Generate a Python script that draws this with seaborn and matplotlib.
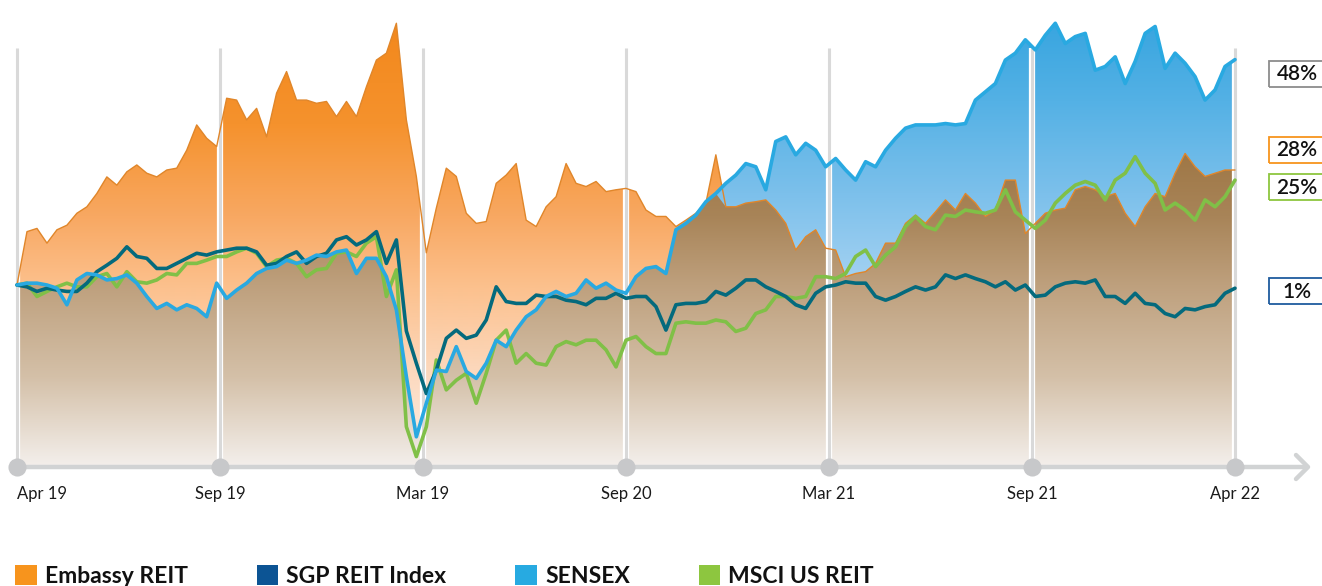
import numpy as np
import pandas as pd
import matplotlib
matplotlib.use("Agg")
import matplotlib.pyplot as plt
import seaborn as sns
from matplotlib.patches import PathPatch, Rectangle, Patch

# ---------------- data (percent change since Apr 19) ----------------
tick_labels = ["Apr 19", "Sep 19", "Mar 19", "Sep 20", "Mar 21", "Sep 21", "Apr 22"]
series_names = ["Embassy REIT", "SGP REIT Index", "SENSEX", "MSCI US REIT"]
end_labels = ["48%", "28%", "25%", "1%"]

embassy = [0, 11.6, 12.3, 9.1, 12.0, 13.0, 15.6, 17.0, 19.9, 23.5, 21.7, 24.6, 26.1, 24.3, 23.5, 25.0, 25.4, 29.3, 34.8, 31.9, 30.1,
           40.6, 40.2, 35.9, 38.4, 32.2, 41.7, 46.4, 40.2, 40.2, 39.5, 39.9, 36.6, 39.9, 36.6, 43.1, 48.9, 50.4, 56.9, 35.9, 23.6, 7.0,
           16.7, 25.4, 23.6, 15.6, 13.4, 13.8, 22.1, 23.9, 26.4, 14.1, 12.7, 17.0, 19.2, 26.4, 22.1, 21.4, 22.5, 20.3, 20.7, 21.0,
           20.3, 16.3, 14.9, 14.9, 12.7, 14.1, 15.6, 17.8, 28.3, 17.0, 17.0, 17.8, 18.1, 18.5, 16.3, 13.4, 7.6, 10.5, 12.0, 8.0,
           7.6, 1.8, 2.5, 2.9, 4.7, 9.1, 9.1, 13.4, 15.2, 13.4, 15.9, 18.5, 16.3, 19.9, 17.8, 14.9, 16.3, 22.8, 22.8, 11.2,
           13.4, 15.6, 16.3, 16.7, 20.7, 21.4, 20.7, 19.2, 19.9, 15.6, 12.7, 17.0, 19.9, 19.2, 24.3, 28.6, 25.7, 23.6, 24.3, 25.0, 25.0]

sgp = [0, -0.4, -1.4, -0.7, -1.1, -1.4, -1.4, 0.4, 2.9, 4.3, 5.8, 8.3, 6.2, 5.8, 3.6, 3.6, 4.7, 5.8, 6.9, 6.5, 7.2,
       7.6, 8.0, 8.0, 7.2, 4.3, 4.7, 6.2, 7.2, 4.7, 6.2, 6.9, 9.8, 10.5, 8.7, 9.8, 11.6, 4.7, 9.8, -10.0, -17.0, -23.6,
       -18.5, -11.6, -9.8, -11.6, -10.9, -7.6, -0.4, -3.6, -4.0, -4.0, -2.2, -2.5, -2.5, -3.3, -3.6, -4.3, -2.9, -2.9, -1.8, -2.9,
       -2.5, -2.5, -4.7, -9.8, -4.3, -4.0, -4.0, -3.6, -1.4, -2.2, -0.7, 1.1, 1.1, -0.4, -1.4, -2.5, -4.3, -5.1, -1.8, -0.4,
       0, 0.7, 0.4, 0.4, -2.5, -3.3, -2.5, -1.4, -0.4, -1.1, -0.4, 2.2, 1.4, 2.2, 1.4, 0.7, -0.4, 0.7, -1.1, 0,
       -2.5, -2.2, -0.4, 0.4, 0.7, 0.4, 1.1, -2.5, -2.5, -4.0, -1.8, -4.0, -4.3, -6.2, -6.9, -5.1, -5.4, -4.7, -4.3, -1.8, -0.7]

sensex = [0, 0.4, 0.4, 0, -0.7, -4.3, 1.1, 2.5, 2.2, 1.1, 1.4, 2.2, 0.4, -2.5, -5.1, -4.0, -5.4, -4.3, -5.1, -6.9, 0.4,
          -2.9, -1.1, 0.4, 2.5, 3.6, 4.0, 5.4, 4.7, 5.4, 6.5, 6.2, 7.2, 7.6, 2.5, 5.8, 5.8, 1.8, -5.4, -19.9, -33.0, -25.7,
          -18.5, -18.8, -13.4, -18.8, -20.3, -17.0, -12.0, -13.4, -9.8, -6.9, -5.4, -2.5, -1.4, -2.5, -1.8, 1.1, -0.7, 0.4, -1.1, -1.8,
          1.8, 3.6, 4.0, 2.5, 12.0, 13.4, 15.2, 18.1, 19.9, 22.1, 23.9, 26.4, 25.7, 20.7, 31.2, 32.2, 28.3, 30.8, 29.3, 25.7,
          27.5, 25.0, 22.8, 26.8, 25.7, 29.3, 31.9, 34.1, 34.8, 34.8, 34.8, 35.1, 34.8, 35.1, 40.2, 42.0, 43.8, 48.9, 50.4, 53.3,
          51.1, 54.3, 56.9, 52.5, 54.0, 54.7, 46.7, 47.5, 49.6, 43.8, 48.6, 54.7, 56.2, 47.1, 50.4, 48.2, 45.3, 40.2, 42.4, 47.5, 49.0]

msci = [0, 0.4, -2.5, -1.4, -0.4, 0.4, -0.4, -0.4, 1.8, 2.5, -0.4, 2.9, 0.7, 0.4, 1.1, 2.5, 2.2, 4.7, 4.7, 5.4, 6.2,
        6.2, 7.2, 8.0, 6.9, 4.0, 5.4, 5.8, 4.7, 1.8, 3.3, 3.6, 6.9, 7.2, 6.2, 9.1, 10.5, -2.5, 3.3, -30.8, -37.3, -30.8,
        -16.3, -22.8, -20.7, -19.2, -25.7, -19.2, -12.0, -9.8, -17.0, -14.9, -17.0, -17.4, -13.4, -12.3, -13.0, -12.0, -12.0, -14.1, -17.8, -12.0,
        -11.2, -13.4, -14.9, -14.9, -8.3, -8.0, -8.3, -8.3, -7.6, -8.0, -10.1, -9.4, -6.2, -5.4, -2.5, -2.5, -2.9, -2.5, 1.8, 1.8,
        1.4, 2.5, 6.2, 7.6, 4.0, 6.5, 8.3, 12.7, 14.9, 12.7, 12.0, 15.2, 14.9, 16.3, 15.9, 15.6, 16.3, 20.7, 15.9, 14.1,
        12.3, 14.1, 17.8, 19.9, 21.7, 22.5, 21.7, 18.5, 22.8, 24.3, 27.9, 24.3, 22.1, 16.3, 17.8, 16.3, 14.1, 18.5, 17.0, 19.2, 22.8]

# ---------------- style ----------------
legend_colors = {"Embassy REIT": "#F7941D", "SGP REIT Index": "#0C5494",
                 "SENSEX": "#27AAE1", "MSCI US REIT": "#8DC63F"}
line_colors = {"SGP REIT Index": "#046A7D", "SENSEX": "#29A9E1", "MSCI US REIT": "#80C047"}
box_colors = ["#8C8C8C", "#F7941D", "#8DC63F", "#1F5C9E"]

sns.set_theme(style="white")
plt.rcParams['font.family'] = ['Lato', 'DejaVu Sans']

W, H = 1322, 586
fig = plt.figure(figsize=(W / 100, H / 100), dpi=100)

X0_PX, PX_PER_UNIT = 17, 203.0
ZERO_PX, PX_PER_PCT = 285, 4.6
xmin, xmax = -0.08, 6.4
ymin = (ZERO_PX - 475) / PX_PER_PCT
ymax = (ZERO_PX - 5) / PX_PER_PCT
left_px = X0_PX + xmin * PX_PER_UNIT
right_px = X0_PX + xmax * PX_PER_UNIT
ax = fig.add_axes([left_px / W, (H - 475) / H, (right_px - left_px) / W, 470 / H])

n = len(embassy)
pos = np.linspace(0, len(tick_labels) - 1, n)
ticks = np.arange(len(tick_labels))
base = (ZERO_PX - 467) / PX_PER_PCT
grid_top = (ZERO_PX - 48) / PX_PER_PCT

emb = np.array(embassy)
sen = np.array(sensex)


def grad_image(stops):
    stops = sorted(stops)
    ps = np.linspace(ymin, ymax, 500)
    sp = np.array([s[0] for s in stops])
    cols = np.array([s[1] for s in stops]) / 255.0
    rgb = np.stack([np.interp(ps, sp, cols[:, i]) for i in range(3)], axis=-1)
    return rgb[:, None, :]


def gradient_fill(top, stops, z):
    coll = ax.fill_between(pos, base, top, facecolor='none', edgecolor='none', lw=0)
    path = coll.get_paths()[0]
    patch = PathPatch(path, transform=ax.transData, fc='none', ec='none')
    ax.add_patch(patch)
    im = ax.imshow(grad_image(stops), extent=[xmin, xmax, ymin, ymax], origin='lower',
                   aspect='auto', zorder=z, interpolation='bilinear')
    im.set_clip_path(patch)


orange_stops = [(62, (242, 134, 24)), (35, (245, 146, 45)), (15, (248, 168, 98)),
                (0, (252, 192, 140)), (-20, (252, 218, 192)), (-41, (253, 242, 234))]
blue_stops = [(62, (48, 162, 222)), (40, (84, 177, 229)), (20, (124, 192, 235)),
              (0, (165, 210, 242)), (-41, (225, 238, 248))]
brown_stops = [(62, (150, 108, 58)), (30, (158, 118, 68)), (15, (168, 132, 88)),
               (0, (190, 160, 125)), (-20, (212, 192, 168)), (-41, (246, 243, 241))]

gradient_fill(emb, orange_stops, 1)
gradient_fill(sen, blue_stops, 2)
gradient_fill(np.minimum(emb, sen), brown_stops, 3)

# grid lines
ax.vlines(ticks, base, grid_top, colors='white', lw=4.5, zorder=4)
ax.vlines(ticks, base, grid_top, colors='#D9D9D9', lw=2.2, zorder=4.1)

# lines
long_df = pd.DataFrame({
    "pos": np.tile(pos, 4),
    "value": np.concatenate([embassy, sgp, sensex, msci]),
    "series": np.repeat(series_names, n),
})
sns.lineplot(data=long_df[long_df.series == "Embassy REIT"], x="pos", y="value",
             color="#E0862A", lw=1.0, ax=ax, legend=False, estimator=None, sort=False, zorder=5)
sns.lineplot(data=long_df[long_df.series != "Embassy REIT"], x="pos", y="value", hue="series",
             hue_order=["MSCI US REIT", "SGP REIT Index", "SENSEX"], palette=line_colors,
             lw=2.6, ax=ax, legend=False, estimator=None, sort=False, zorder=6)

# bottom axis with arrow and dots
end_x = (1305 - X0_PX) / PX_PER_UNIT
ax.plot([0, end_x], [base, base], color='#D1D3D4', lw=3.2, solid_capstyle='butt', zorder=7, clip_on=False)
ax_x = (1308 - X0_PX) / PX_PER_UNIT
dx, dy = 12 / PX_PER_UNIT, 12 / PX_PER_PCT
ax.plot([ax_x - dx, ax_x, ax_x - dx], [base + dy, base, base - dy], color='#D1D3D4', lw=3.2,
        solid_capstyle='round', solid_joinstyle='round', zorder=7, clip_on=False)
ax.scatter(ticks, [base] * len(ticks), s=170, color='#C7C8CA', lw=0, zorder=8, clip_on=False)

ax.set_xlim(xmin, xmax)
ax.set_ylim(ymin, ymax)
ax.set_yticks([])
ax.set_xticks(ticks)
ax.set_xticklabels(tick_labels, fontsize=12, color='#1a1a1a')
ax.get_xticklabels()[0].set_horizontalalignment('left')
ax.tick_params(axis='x', length=0, pad=8)
ax.set_xlabel("")
ax.set_ylabel("")
for s in ax.spines.values():
    s.set_visible(False)
ax.set_facecolor('none')

# end value boxes
box_tops = [61, 137, 174, 278]
for lab, col, top in zip(end_labels, box_colors, box_tops):
    fig.add_artist(Rectangle((1269 / W, 1 - (top + 26) / H), 70 / W, 26 / H, transform=fig.transFigure,
                             fill=False, ec=col, lw=1.3))
    fig.text(1297 / W, 1 - (top + 13.5) / H, lab, ha='center', va='center', fontsize=15,
             color='#111111', weight='semibold')

# legend
handles = [Patch(facecolor=legend_colors[s], edgecolor='none', label=s) for s in series_names]
fig.legend(handles=handles, loc='upper left', bbox_to_anchor=(15 / W, 1 - 565 / H), ncol=4,
           frameon=False, prop={'size': 16.5, 'weight': 'bold'}, handlelength=0.95, handleheight=0.95,
           handletextpad=0.35, columnspacing=3.0, borderpad=0, borderaxespad=0, labelcolor='#111111')

fig.savefig("out.png", dpi=100)
